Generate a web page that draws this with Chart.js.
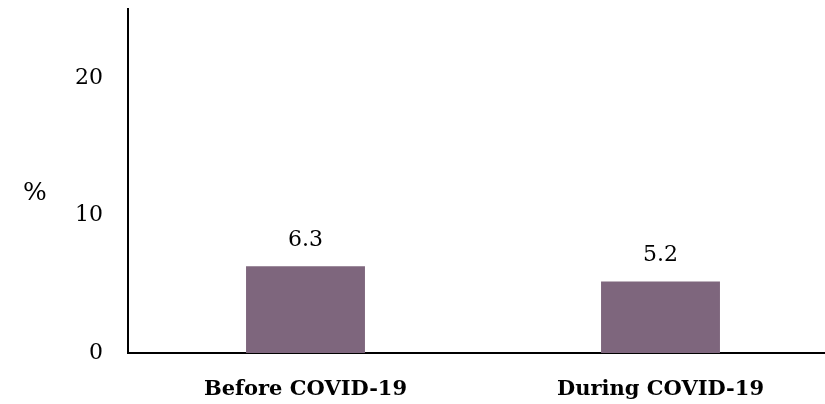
<!DOCTYPE html>
<html>
<head>
<meta charset="utf-8">
<script src="https://cdn.jsdelivr.net/npm/chart.js@4/dist/chart.umd.min.js"></script>
<style>
  html, body { margin: 0; padding: 0; background: #ffffff; overflow: hidden; }
  #wrap { position: relative; width: 838px; height: 404px; }
</style>
</head>
<body>
<div id="wrap"><canvas id="c" width="838" height="404"></canvas></div>
<script>
// Share of respondents, before vs during the pandemic
const categories = ['Before COVID-19', 'During COVID-19'];
const percentValues = [6.3, 5.2];
const yTickLabels = [0, 10, 20];
const yUnitLabel = '%';

const serif = '"DejaVu Serif", "Liberation Serif", serif';
const barColor = '#7e667d';

// Writes each bar's value just above it, and the unit beside the y axis
const annotate = {
  id: 'annotate',
  afterDatasetsDraw(chart) {
    const ctx = chart.ctx;
    const meta = chart.getDatasetMeta(0);
    ctx.save();
    ctx.fillStyle = '#000';
    ctx.font = '22px ' + serif;
    ctx.textAlign = 'center';
    ctx.textBaseline = 'middle';
    meta.data.forEach((bar, i) => {
      ctx.fillText(String(percentValues[i]), bar.x, bar.y - 26);
    });
    const yScale = chart.scales.y;
    ctx.font = '25px ' + serif;
    ctx.fillText(yUnitLabel, yScale.left + 35, yScale.getPixelForValue(11.6));
    ctx.restore();
  }
};

new Chart(document.getElementById('c'), {
  type: 'bar',
  data: {
    labels: categories,
    datasets: [{
      data: percentValues,
      backgroundColor: barColor,
      borderWidth: 0,
      barPercentage: 1,
      categoryPercentage: 0.335
    }]
  },
  options: {
    responsive: false,
    animation: false,
    events: [],
    layout: { padding: { top: 9, right: 0, bottom: 0, left: 0 } },
    plugins: { legend: { display: false }, tooltip: { enabled: false } },
    scales: {
      x: {
        grid: { display: false, drawTicks: false },
        border: { display: true, color: '#000', width: 2 },
        ticks: {
          color: '#000',
          padding: 24,
          font: { family: serif, size: 21, weight: 'bold' }
        },
        afterFit(scale) {
          scale.height = 51;
          scale.paddingLeft = 0;
          scale.paddingRight = 0;
        }
      },
      y: {
        min: 0,
        max: 25,
        grid: { display: false, drawTicks: false },
        border: { display: true, color: '#000', width: 2 },
        ticks: {
          stepSize: 10,
          color: '#000',
          padding: 25,
          font: { family: serif, size: 22 }
        },
        afterBuildTicks(scale) {
          scale.ticks = yTickLabels.map(v => ({ value: v }));
        },
        afterFit(scale) {
          scale.width = 128;
          scale.paddingTop = 0;
          scale.paddingBottom = 0;
        }
      }
    }
  },
  plugins: [annotate]
});
</script>
</body>
</html>
